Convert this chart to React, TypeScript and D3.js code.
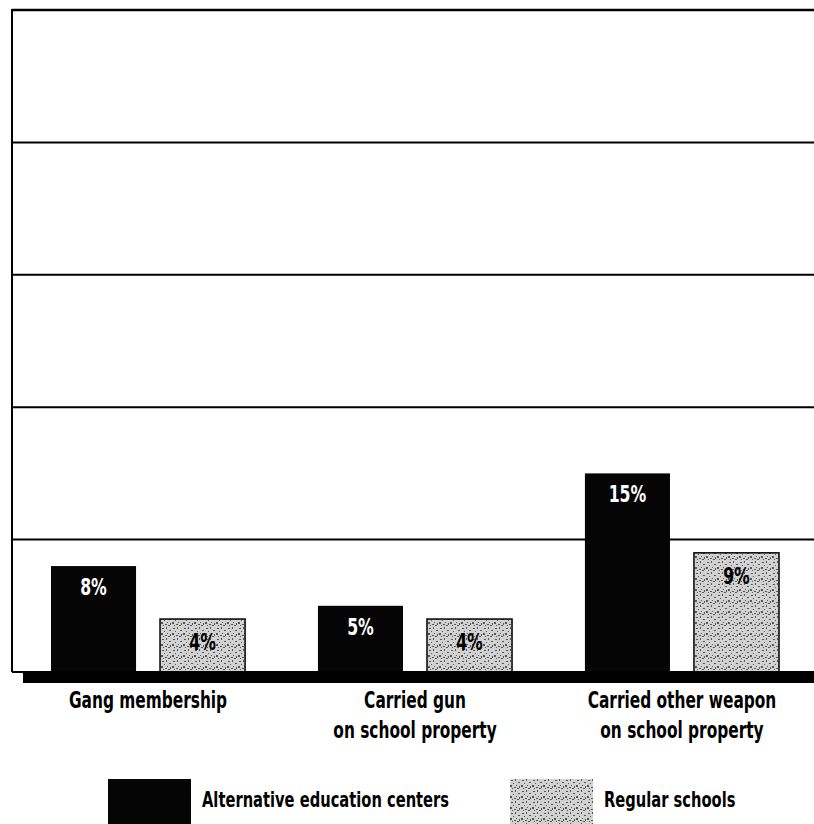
import React, { useEffect, useRef } from "react";
import * as d3 from "d3";

// Share of students (%) reporting each behaviour
const categories = [
  ["Gang membership"],
  ["Carried gun", "on school property"],
  ["Carried other weapon", "on school property"],
];
const alternativeValues = [8, 5, 15];
const regularValues = [4, 4, 9];
const seriesKeys = ["alt", "reg"];
const seriesNames = ["Alternative education centers", "Regular schools"];
const gridTicks = [10, 20, 30, 40, 50];

const W = 814;
const H = 824;
const FONT = "'DejaVu Sans Condensed', 'DejaVu Sans', sans-serif";
// horizontal squeeze that gives the tall, narrow lettering
const SQUEEZE = 0.76;

// deterministic speckle layout for the halftone texture
const speckles = [
  [1, 1, 2, 1], [5, 0, 1, 2], [8, 3, 2, 1], [3, 4, 1, 1], [0, 6, 2, 2],
  [6, 6, 1, 1], [9, 7, 1, 2], [4, 8, 2, 1], [2, 9, 1, 1], [7, 9, 2, 1],
];

export default function App() {
  const ref = useRef<SVGSVGElement | null>(null);

  useEffect(() => {
    const svg = d3.select(ref.current);
    svg.selectAll("*").remove();

    const defs = svg.append("defs");
    const pat = defs
      .append("pattern")
      .attr("id", "speckle")
      .attr("width", 11)
      .attr("height", 11)
      .attr("patternUnits", "userSpaceOnUse");
    pat.append("rect").attr("width", 11).attr("height", 11).attr("fill", "#d2d2d2");
    pat
      .selectAll("rect.s")
      .data(speckles)
      .join("rect")
      .attr("class", "s")
      .attr("x", (d) => d[0])
      .attr("y", (d) => d[1])
      .attr("width", (d) => d[2])
      .attr("height", (d) => d[3])
      .attr("fill", "#555");

    const left = 12;
    const top = 10;
    const baseY = 672;

    const y = d3.scaleLinear().domain([0, 50]).range([baseY, top]);
    const x0 = d3
      .scaleBand<number>()
      .domain(d3.range(categories.length))
      .range([51, 779])
      .paddingInner(0.273)
      .paddingOuter(0);
    const x1 = d3
      .scaleBand<string>()
      .domain(seriesKeys)
      .range([0, x0.bandwidth()])
      .paddingInner(0.22);

    const place = (px: number, py: number) => `translate(${px},${py}) scale(${SQUEEZE},1)`;

    // horizontal gridlines
    svg
      .append("g")
      .selectAll("line")
      .data(gridTicks)
      .join("line")
      .attr("x1", left)
      .attr("x2", W)
      .attr("y1", (d) => y(d))
      .attr("y2", (d) => y(d))
      .attr("stroke", "#000")
      .attr("stroke-width", (d) => (d === 50 ? 2.5 : 2));

    // left frame edge
    svg
      .append("line")
      .attr("x1", left)
      .attr("x2", left)
      .attr("y1", top - 1)
      .attr("y2", baseY)
      .attr("stroke", "#000")
      .attr("stroke-width", 2);

    const rows = categories.map((c, i) => ({
      i,
      values: [
        { key: "alt", v: alternativeValues[i] },
        { key: "reg", v: regularValues[i] },
      ],
    }));

    const groups = svg
      .append("g")
      .selectAll("g")
      .data(rows)
      .join("g")
      .attr("transform", (d) => `translate(${x0(d.i)},0)`);

    groups
      .selectAll("rect")
      .data((d) => d.values)
      .join("rect")
      .attr("x", (d) => x1(d.key)!)
      .attr("y", (d) => y(d.v))
      .attr("width", x1.bandwidth())
      .attr("height", (d) => baseY - y(d.v))
      .attr("fill", (d) => (d.key === "alt" ? "#050505" : "url(#speckle)"))
      .attr("stroke", "#000")
      .attr("stroke-width", (d) => (d.key === "alt" ? 0 : 1.5));

    groups
      .selectAll("text")
      .data((d) => d.values)
      .join("text")
      .attr("transform", (d) =>
        place(x1(d.key)! + x1.bandwidth() / 2, y(d.v) + (d.key === "alt" ? 29 : 31))
      )
      .attr("text-anchor", "middle")
      .attr("font-family", FONT)
      .attr("font-weight", "bold")
      .attr("font-size", 23)
      .attr("fill", (d) => (d.key === "alt" ? "#fff" : "#000"))
      .text((d) => `${d.v}%`);

    // baseline with its heavy shadow band
    svg
      .append("line")
      .attr("x1", left)
      .attr("x2", W)
      .attr("y1", baseY)
      .attr("y2", baseY)
      .attr("stroke", "#000")
      .attr("stroke-width", 2);
    svg
      .append("rect")
      .attr("x", 23)
      .attr("y", baseY)
      .attr("width", W - 23)
      .attr("height", 11)
      .attr("fill", "#000");

    // category labels
    const catLines = categories.flatMap((lines, i) =>
      lines.map((t, k) => ({ t, k, cx: x0(i)! + x0.bandwidth() / 2 }))
    );
    svg
      .append("g")
      .selectAll("text")
      .data(catLines)
      .join("text")
      .attr("transform", (d) => place(d.cx, 708 + d.k * 30))
      .attr("text-anchor", "middle")
      .attr("font-family", FONT)
      .attr("font-weight", "bold")
      .attr("font-size", 22.5)
      .attr("fill", "#000")
      .text((d) => d.t);

    // legend
    const legendX = [108, 510];
    const lg = svg
      .append("g")
      .selectAll("g")
      .data(seriesKeys.map((k, i) => ({ k, name: seriesNames[i], x: legendX[i] })))
      .join("g")
      .attr("transform", (d) => `translate(${d.x},779)`);
    lg.append("rect")
      .attr("width", 83)
      .attr("height", 50)
      .attr("fill", (d) => (d.k === "alt" ? "#050505" : "url(#speckle)"));
    lg.append("text")
      .attr("transform", place(94, 28))
      .attr("font-family", FONT)
      .attr("font-weight", "bold")
      .attr("font-size", 21.5)
      .attr("fill", "#000")
      .text((d) => d.name);
  }, []);

  return (
    <>
      <style>{`body{margin:0;background:#fff}`}</style>
      <svg ref={ref} width={W} height={H} style={{ display: "block" }} />
    </>
  );
}
